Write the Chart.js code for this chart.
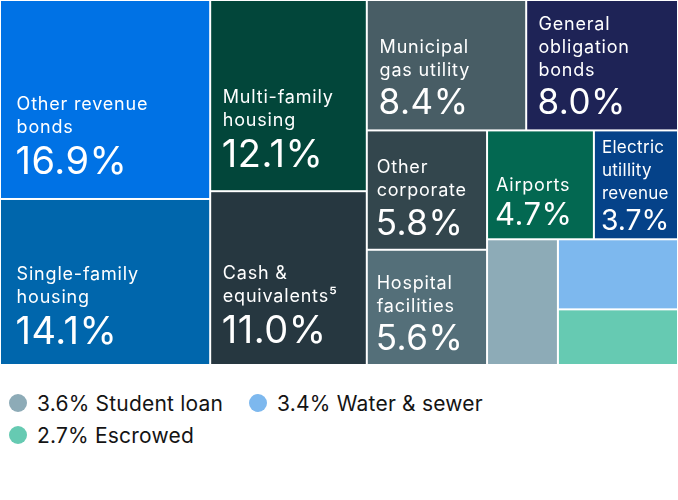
<!DOCTYPE html>
<html>
<head>
<meta charset="utf-8">
<script src="https://cdn.jsdelivr.net/npm/chart.js@4/dist/chart.umd.min.js"></script>
<style>
  body { margin: 0; background: #fff; font-family: Inter, "Open Sans", sans-serif; }
  #wrap { width: 678px; height: 365px; }
  #legend { width: 520px; margin: 22px 0 0 9px; font-size: 21px; letter-spacing: 0.2px; color: #141414; }
  .item { display: inline-flex; align-items: center; height: 32px; margin-right: 26px; }
  .dot { width: 18px; height: 18px; border-radius: 50%; margin-right: 10px; }
</style>
</head>
<body>
<div id="wrap"><canvas id="sectores" width="678" height="365"></canvas></div>
<div id="legend"></div>
<script>
// categorias y pesos (%)
const sectores = [
  "Other revenue\nbonds", "Single-family\nhousing", "Multi-family\nhousing", "Cash &\nequivalents\u2075",
  "Municipal\ngas utility", "General\nobligation\nbonds", "Other\ncorporate", "Hospital\nfacilities",
  "Airports", "Electric\nutillity\nrevenue", "Student loan", "Water & sewer", "Escrowed"
];
const pesos = [16.9, 14.1, 12.1, 11.0, 8.4, 8.0, 5.8, 5.6, 4.7, 3.7, 3.6, 3.4, 2.7];
const colores = [
  "#0072E5", "#0066AC", "#02463A", "#263740",
  "#485D65", "#1E2356", "#33464D", "#546F79",
  "#036851", "#054289", "#8DABB7", "#7DB8EE", "#66CAB2"
];
// estos van en la leyenda y no llevan texto en la celda
const soloLeyenda = ["Student loan", "Water & sewer", "Escrowed"];

const suma = (arr) => arr.reduce((s, d) => s + d.valor, 0);

const peor = (fila, lado, escala) => {
  const s = suma(fila) * escala;
  let m = 0;
  fila.forEach(d => {
    const a = d.valor * escala;
    m = Math.max(m, (lado * lado * a) / (s * s), (s * s) / (lado * lado * a));
  });
  return m;
};

// treemap "squarified" en unidades de las escalas
const squarify = (items, x, y, w, h) => {
  const salida = [];
  const escala = (w * h) / suma(items);
  let resto = items.slice();
  while (resto.length) {
    const lado = Math.min(w, h);
    const fila = [resto[0]];
    let i = 1;
    while (i < resto.length && peor([...fila, resto[i]], lado, escala) <= peor(fila, lado, escala)) {
      fila.push(resto[i]);
      i++;
    }
    resto = resto.slice(fila.length);
    const grosor = (suma(fila) * escala) / lado;
    let off = 0;
    fila.forEach(d => {
      const largo = (d.valor * escala) / grosor;
      if (w >= h) salida.push({ d, x: x, y: y + off, w: grosor, h: largo });
      else salida.push({ d, x: x + off, y: y, w: largo, h: grosor });
      off += largo;
    });
    if (w >= h) { x += grosor; w -= grosor; } else { y += grosor; h -= grosor; }
  }
  return salida;
};

const celdasPlugin = {
  id: 'celdas',
  afterDatasetsDraw(chart) {
    const ctx = chart.ctx;
    const sx = chart.scales.x, sy = chart.scales.y;
    const items = pesos.map((v, i) => ({ valor: v, nombre: sectores[i], color: colores[i] }));
    const rects = squarify(items, sx.min, sy.min, sx.max - sx.min, sy.max - sy.min);
    ctx.save();
    rects.forEach(r => {
      const x0 = sx.getPixelForValue(r.x), x1 = sx.getPixelForValue(r.x + r.w);
      const y0 = sy.getPixelForValue(r.y), y1 = sy.getPixelForValue(r.y + r.h);
      const izq = x0 + 1, arr = y0 + 1, w = x1 - x0 - 2, h = y1 - y0 - 2;
      ctx.fillStyle = r.d.color;
      ctx.fillRect(izq, arr, w, h);
      if (soloLeyenda.includes(r.d.nombre)) return;

      ctx.save();
      ctx.beginPath();
      ctx.rect(izq, arr, w, h);
      ctx.clip();
      const padX = Math.max(7, Math.min(17, w * 0.075));
      const padB = Math.max(11, Math.min(24, h * 0.12));
      const lineas = r.d.nombre.split("\n");
      const libre = w - padX - 5;

      // tamanos base, reducidos si no caben a lo ancho
      let tamEtq = 18, espEtq = 0.8;
      ctx.letterSpacing = espEtq + "px";
      ctx.font = "400 " + tamEtq + "px Inter";
      const anchoEtq = Math.max(...lineas.map(l => ctx.measureText(l).width));
      if (anchoEtq > libre) { tamEtq *= libre / anchoEtq; espEtq = 0.3; }

      let tamValor = r.d.valor >= 10 ? 38 : r.d.valor >= 5 ? 35 : 31, espValor = 0.5;
      const txtValor = r.d.valor.toFixed(1) + "%";
      ctx.letterSpacing = espValor + "px";
      ctx.font = "400 " + tamValor + "px Inter";
      const anchoValor = ctx.measureText(txtValor).width;
      if (anchoValor > libre) { tamValor *= libre / anchoValor; espValor = 0; }

      const lh = 23;
      let baseValor = arr + h - padB;
      let baseEtq = baseValor - tamValor * 1.1 - (lineas.length - 1) * lh;
      const tope = baseEtq - 13;
      if (tope < arr + 9) {
        const mover = arr + 9 - tope;
        baseEtq += mover;
        baseValor += mover;
      }
      ctx.fillStyle = "#fff";
      ctx.textAlign = "left";
      ctx.textBaseline = "alphabetic";
      ctx.letterSpacing = espEtq + "px";
      ctx.font = "400 " + tamEtq.toFixed(1) + "px Inter";
      lineas.forEach((l, k) => ctx.fillText(l, izq + padX, baseEtq + k * lh));
      ctx.letterSpacing = espValor + "px";
      ctx.font = "400 " + tamValor.toFixed(1) + "px Inter";
      ctx.fillText(txtValor, izq + padX - 1, baseValor);
      ctx.restore();
    });
    ctx.restore();
  }
};

new Chart(document.getElementById('sectores'), {
  type: 'scatter',
  data: { datasets: [{ label: 'Sectores', data: [] }] },
  options: {
    responsive: false,
    animation: false,
    events: [],
    layout: { padding: 0 },
    scales: {
      x: { type: 'linear', min: 0, max: 678, display: false },
      y: { type: 'linear', min: 0, max: 365, reverse: true, display: false }
    },
    plugins: { legend: { display: false }, tooltip: { enabled: false } }
  },
  plugins: [celdasPlugin]
});

// leyenda para las celdas pequenas
const leyenda = document.getElementById('legend');
soloLeyenda.forEach(n => {
  const i = sectores.indexOf(n);
  const el = document.createElement('span');
  el.className = 'item';
  el.innerHTML = '<span class="dot" style="background:' + colores[i] + '"></span>' + pesos[i].toFixed(1) + '% ' + n;
  leyenda.appendChild(el);
});
</script>
</body>
</html>
